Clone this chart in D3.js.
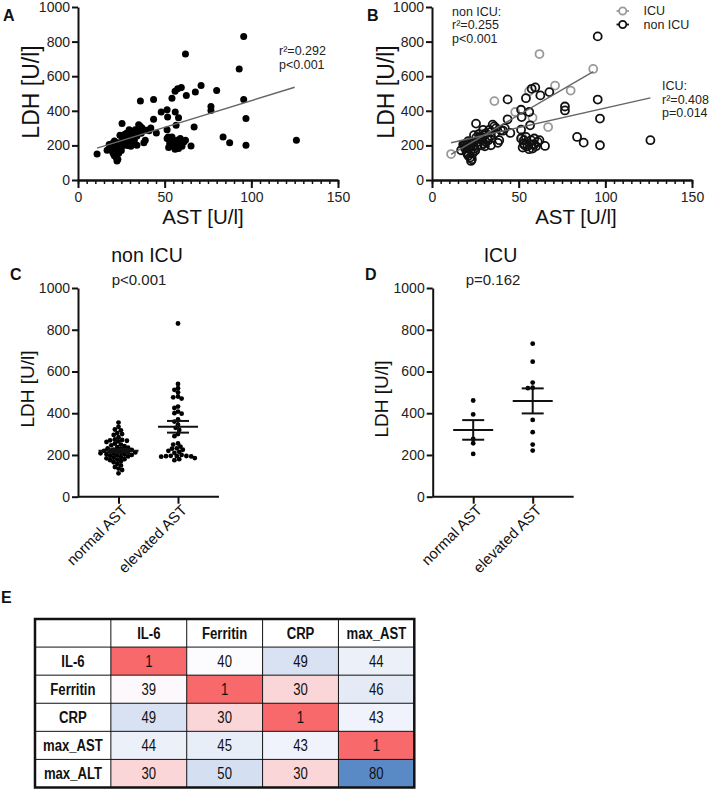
<!DOCTYPE html>
<html><head><meta charset="utf-8">
<script src="https://cdn.jsdelivr.net/npm/d3@7"></script>
<style>
body{margin:0;background:#fff}
svg{display:block}
text{font-family:"Liberation Sans",Arial,sans-serif}
</style>
</head><body>
<svg id="c" width="714" height="789"></svg>
<script>
// ---------------- DATA ----------------
const astTicks = [0, 50, 100, 150];
const ldhTicks = [0, 200, 400, 600, 800, 1000];

const icuAst = [11, 36, 62, 93, 71, 80, 56, 48, 58, 67, 52, 28, 22, 55];
const icuLdh = [150, 456, 728, 642, 546, 517, 513, 393, 360, 306, 249, 270, 205, 222];

const nonIcuAst = [95.6, 95.6, 96.9, 96.9, 126, 83.7, 87.5, 76.7, 76.7, 67.7, 62.5, 59.6, 57.5, 54.2, 43.6,
  51.4, 51.7, 56.1, 43.6, 25.4, 56.6, 51.4, 45.2, 39.8, 35.9, 34.0, 30.2, 27.3, 24.2, 38.8, 31.0, 34.0,
  51.4, 52.9, 52.3, 54.2, 57.1, 59.0, 58.0, 61.0, 65.2, 53.5, 55.0, 56.0, 57.5, 60.0, 62.0, 53.0, 59.0,
  16.8, 18.6, 20.5, 19.0, 20.0, 21.0, 22.0, 22.5, 23.0, 21.5, 22.0, 23.0, 24.0, 24.5, 25.0, 19.5, 18.0,
  21.0, 22.5, 20.5, 23.5, 26.0, 26.5, 27.0, 28.0, 29.0, 30.0, 31.0, 32.0, 33.0, 34.0, 35.0, 36.5, 37.0,
  29.5, 28.5, 32.5, 41.0, 42.0, 38.0, 25.5, 30.5];
const nonIcuLdh = [830, 465, 355, 201, 230, 249, 216, 425, 402, 508, 489, 535, 527, 473, 466,
  406, 364, 393, 351, 326, 316, 291, 272, 287, 310, 278, 259, 239, 259, 230, 220, 201,
  240, 211, 188, 249, 230, 207, 182, 220, 197, 200, 195, 178, 205, 195, 230, 230, 240,
  172, 201, 211, 185, 160, 140, 130, 110, 120, 190, 200, 215, 195, 180, 170, 210, 205,
  225, 175, 150, 155, 200, 220, 265, 250, 230, 210, 270, 245, 290, 255, 320, 270, 300,
  290, 200, 230, 285, 300, 215, 245, 195];

const fitAllAst = [11, 125], fitAllLdh = [184, 536];
const fitIcuAst = [11, 93], fitIcuLdh = [148, 626];
const fitNonAst = [11, 126], fitNonLdh = [215, 475];

const groups = ["normal AST", "elevated AST"];
const nonIcuNormal = [355, 335, 322, 318, 305, 300, 296, 285, 275, 272, 270, 268, 265, 262, 255, 250, 246,
  242, 238, 235, 232, 229, 226, 224, 222, 220, 218, 216, 214, 212, 210, 208, 206, 204, 202, 200, 198, 196,
  193, 190, 187, 184, 180, 178, 175, 170, 165, 158, 150, 142, 135, 128, 112];
const nonIcuElevated = [830, 540, 520, 512, 500, 480, 476, 470, 432, 425, 408, 400, 398, 370, 360, 345, 330,
  320, 300, 290, 255, 250, 240, 232, 230, 225, 220, 215, 210, 200, 196, 195, 195, 194, 193, 192, 185, 180, 175];
const icuNormal = [461, 394, 277, 256, 205];
const icuElevated = [733, 647, 547, 522, 520, 368, 309, 250, 221];
const nonIcuMean = [220, 335], nonIcuSem = [8, 28];
const icuMean = [320, 459], icuSem = [47, 60];

const tableCols = ["IL-6", "Ferritin", "CRP", "max_AST"];
const tableRows = ["IL-6", "Ferritin", "CRP", "max_AST", "max_ALT"];
const tableVals = [[1, 40, 49, 44], [39, 1, 30, 46], [49, 30, 1, 43], [44, 45, 43, 1], [30, 50, 30, 80]];

// ---------------- DRAW ----------------
const svg = d3.select("#c");
svg.append("rect").attr("width", 714).attr("height", 789).attr("fill", "#fff");
const fmt = d3.format("d");

function styleAxis(g, fs) {
  g.select(".domain").attr("stroke", "#111").attr("stroke-width", 2);
  g.selectAll(".tick line").attr("stroke", "#111").attr("stroke-width", 2);
  g.selectAll(".tick text").attr("fill", "#222").attr("font-size", fs)
    .attr("font-family", "'Liberation Sans',Arial,sans-serif");
}

function panelLetter(t, x, y) {
  svg.append("text").attr("x", x).attr("y", y).attr("font-size", 16).attr("font-weight", "bold")
    .attr("fill", "#111").text(t);
}

function scatterFrame(ox, xTitleX, yTitleX) {
  const x = d3.scaleLinear().domain([0, 150]).range([ox, ox + 260]);
  const y = d3.scaleLinear().domain([0, 1000]).range([180, 7]);
  const gm = svg.append("g").attr("transform", "translate(0,180)")
    .call(d3.axisBottom(x).tickValues(d3.range(0, 151, 5)).tickSize(4).tickSizeOuter(0).tickFormat(""));
  styleAxis(gm, 14);
  gm.selectAll(".tick line").attr("stroke-width", 1.5);
  const gx = svg.append("g").attr("transform", "translate(0,180)")
    .call(d3.axisBottom(x).tickValues(astTicks).tickSize(8).tickSizeOuter(0).tickPadding(4).tickFormat(fmt));
  styleAxis(gx, 14);
  const gy = svg.append("g").attr("transform", `translate(${ox},0)`)
    .call(d3.axisLeft(y).tickValues(ldhTicks).tickSize(6).tickSizeOuter(0).tickPadding(2).tickFormat(fmt));
  styleAxis(gy, 14);
  svg.append("text").attr("x", xTitleX).attr("y", 224).attr("text-anchor", "middle")
    .attr("font-size", 20.5).attr("fill", "#111").text("AST [U/l]");
  svg.append("text").attr("transform", `translate(${yTitleX},92) rotate(-90)`)
    .attr("text-anchor", "middle").attr("dominant-baseline", "central")
    .attr("font-size", 23).attr("fill", "#111").text("LDH [U/l]");
  return {x, y};
}

function annot(lines, x, y0, dy) {
  lines.forEach((l, i) => {
    svg.append("text").attr("x", x).attr("y", y0 + i * dy).attr("font-size", 12.5).attr("fill", "#222").text(l);
  });
}

// Panel A
panelLetter("A", 3, 21);
{
  const {x, y} = scatterFrame(78, 203, 31);
  const allAst = icuAst.concat(nonIcuAst), allLdh = icuLdh.concat(nonIcuLdh);
  svg.append("g").selectAll("circle").data(allAst).join("circle")
    .attr("cx", (d) => x(d)).attr("cy", (d, i) => y(allLdh[i])).attr("r", 3.5).attr("fill", "#000");
  svg.append("line").attr("x1", x(fitAllAst[0])).attr("y1", y(fitAllLdh[0]))
    .attr("x2", x(fitAllAst[1])).attr("y2", y(fitAllLdh[1])).attr("stroke", "#666").attr("stroke-width", 1.4);
  annot(["r²=0.292", "p<0.001"], 279, 55, 13.5);
}

// Panel B
panelLetter("B", 367, 21);
{
  const {x, y} = scatterFrame(432, 576, 386);
  svg.append("g").selectAll("circle").data(icuAst).join("circle")
    .attr("cx", (d) => x(d)).attr("cy", (d, i) => y(icuLdh[i])).attr("r", 4)
    .attr("fill", "none").attr("stroke", "#9a9a9a").attr("stroke-width", 1.8);
  svg.append("g").selectAll("circle").data(nonIcuAst).join("circle")
    .attr("cx", (d) => x(d)).attr("cy", (d, i) => y(nonIcuLdh[i])).attr("r", 4)
    .attr("fill", "none").attr("stroke", "#111").attr("stroke-width", 1.8);
  svg.append("line").attr("x1", x(fitIcuAst[0])).attr("y1", y(fitIcuLdh[0]))
    .attr("x2", x(fitIcuAst[1])).attr("y2", y(fitIcuLdh[1])).attr("stroke", "#666").attr("stroke-width", 1.4);
  svg.append("line").attr("x1", x(fitNonAst[0])).attr("y1", y(fitNonLdh[0]))
    .attr("x2", x(fitNonAst[1])).attr("y2", y(fitNonLdh[1])).attr("stroke", "#666").attr("stroke-width", 1.4);
  annot(["non ICU:", "r²=0.255", "p<0.001"], 452, 15.5, 13.5);
  annot(["ICU:", "r²=0.408", "p=0.014"], 662, 90, 13.5);
  const leg = [["ICU", "#9a9a9a"], ["non ICU", "#111"]];
  leg.forEach((l, i) => {
    const yy = 11 + i * 13.5;
    svg.append("line").attr("x1", 616.5).attr("x2", 629).attr("y1", yy).attr("y2", yy)
      .attr("stroke", l[1]).attr("stroke-width", 1.8);
    svg.append("circle").attr("cx", 622.7).attr("cy", yy).attr("r", 3.6).attr("fill", "#fff")
      .attr("stroke", l[1]).attr("stroke-width", 1.8);
    svg.append("text").attr("x", 643.5).attr("y", yy + 4.4).attr("font-size", 12.5).attr("fill", "#222").text(l[0]);
  });
}

function swarm(vals, yScale, r) {
  const pts = vals.map((v) => ({v, y: yScale(v), x: 0}));
  const order = pts.slice().sort((a, b) => a.y - b.y);
  const placed = [];
  const minD2 = (2 * r * 0.8) ** 2;
  for (const p of order) {
    for (let k = 0; k < 400; k++) {
      const off = (k % 2 === 0 ? 1 : -1) * Math.ceil(k / 2) * r * 0.5;
      if (placed.every((q) => (q.x - off) ** 2 + (q.y - p.y) ** 2 >= minD2)) { p.x = off; break; }
    }
    placed.push(p);
  }
  return pts;
}

function dotPanel(ox, title, pText, titleX, normal, elevated, means, sems, yTitleY) {
  const y = d3.scaleLinear().domain([0, 1000]).range([496.7, 288]);
  const xp = d3.scalePoint().domain(groups).range([ox + 40.5, ox + 100]);
  svg.append("line").attr("x1", ox).attr("x2", ox + 141).attr("y1", 496.7).attr("y2", 496.7)
    .attr("stroke", "#111").attr("stroke-width", 2);
  const gx = svg.append("g").attr("transform", "translate(0,496.7)")
    .call(d3.axisBottom(xp).tickSize(7).tickSizeOuter(0).tickFormat(""));
  styleAxis(gx, 14);
  gx.select(".domain").remove();
  const gy = svg.append("g").attr("transform", `translate(${ox},0)`)
    .call(d3.axisLeft(y).tickValues(ldhTicks).tickSize(6).tickSizeOuter(0).tickPadding(2).tickFormat(fmt));
  styleAxis(gy, 14);
  groups.forEach((gname) => {
    svg.append("text").attr("transform", `translate(${xp(gname) + 6},507) rotate(-45)`)
      .attr("text-anchor", "end").attr("dominant-baseline", "central")
      .attr("font-size", 15).attr("fill", "#111").text(gname);
  });
  svg.append("text").attr("transform", `translate(${ox - 51},${yTitleY}) rotate(-90)`)
    .attr("text-anchor", "middle").attr("dominant-baseline", "central")
    .attr("font-size", 19).attr("fill", "#111").text("LDH [U/l]");
  svg.append("text").attr("x", titleX[0]).attr("y", 262).attr("text-anchor", "middle")
    .attr("font-size", 19.5).attr("fill", "#111").text(title);
  svg.append("text").attr("x", titleX[1]).attr("y", 285).attr("text-anchor", "middle")
    .attr("font-size", 15).attr("fill", "#222").text(pText);
  [normal, elevated].forEach((vals, gi) => {
    const cx = xp(groups[gi]);
    const pts = swarm(vals, y, 2.4);
    svg.append("g").selectAll("circle").data(pts).join("circle")
      .attr("cx", (d) => cx + d.x).attr("cy", (d) => d.y).attr("r", 2.4).attr("fill", "#000");
    const m = means[gi], s = sems[gi];
    const g = svg.append("g").attr("stroke", "#111").attr("stroke-width", 2);
    g.append("line").attr("x1", cx - 20).attr("x2", cx + 20).attr("y1", y(m)).attr("y2", y(m));
    g.append("line").attr("x1", cx - 11).attr("x2", cx + 11).attr("y1", y(m + s)).attr("y2", y(m + s));
    g.append("line").attr("x1", cx - 11).attr("x2", cx + 11).attr("y1", y(m - s)).attr("y2", y(m - s));
    g.append("line").attr("x1", cx).attr("x2", cx).attr("y1", y(m + s)).attr("y2", y(m - s));
  });
}

panelLetter("C", 10, 280);
dotPanel(78, "non ICU", "p<0.001", [147, 139], nonIcuNormal, nonIcuElevated, nonIcuMean, nonIcuSem, 389);
panelLetter("D", 365, 280);
dotPanel(432.7, "ICU", "p=0.162", [500.5, 493], icuNormal, icuElevated, icuMean, icuSem, 399);

// Panel E table
panelLetter("E", 1, 603);
{
  const xb = d3.scaleBand().domain(["", ...tableCols]).range([35, 414.3]);
  const yb = d3.scaleBand().domain(["hdr", ...tableRows]).range([619, 787.5]);
  const color = d3.scaleLinear().domain([1, 40, 80]).range(["#f8696b", "#fcfcff", "#5a8ac6"]);
  const g = svg.append("g");
  function cellText(cx, cy, t, bold) {
    g.append("text").attr("transform", `translate(${cx},${cy}) scale(0.82,1)`)
      .attr("text-anchor", "middle").attr("dominant-baseline", "central")
      .attr("font-weight", bold ? "bold" : "normal")
      .attr("font-size", 16).attr("fill", "#111").text(t);
  }
  tableRows.forEach((r, ri) => {
    tableCols.forEach((c, ci) => {
      const v = tableVals[ri][ci];
      g.append("rect").attr("x", xb(c)).attr("y", yb(r)).attr("width", xb.bandwidth()).attr("height", yb.bandwidth())
        .attr("fill", color(v));
      cellText(xb(c) + xb.bandwidth() / 2, yb(r) + yb.bandwidth() / 2 + 0.5, v, false);
    });
    cellText(xb("") + xb.bandwidth() / 2, yb(r) + yb.bandwidth() / 2 + 0.5, r, true);
  });
  tableCols.forEach((c) => cellText(xb(c) + xb.bandwidth() / 2, yb("hdr") + yb.bandwidth() / 2 + 0.5, c, true));
  const xs = ["", ...tableCols].map((c) => xb(c)).concat([414.3]);
  const ys = ["hdr", ...tableRows].map((r) => yb(r)).concat([787.5]);
  xs.forEach((xv) => g.append("line").attr("x1", xv).attr("x2", xv).attr("y1", 619).attr("y2", 787.5)
    .attr("stroke", "#111").attr("stroke-width", 1));
  ys.forEach((yv) => g.append("line").attr("x1", 35).attr("x2", 414.3).attr("y1", yv).attr("y2", yv)
    .attr("stroke", "#111").attr("stroke-width", 1));
  g.append("rect").attr("x", 35).attr("y", 619).attr("width", 379.3).attr("height", 168.5)
    .attr("fill", "none").attr("stroke", "#111").attr("stroke-width", 2.5);
}
</script>
</body></html>
